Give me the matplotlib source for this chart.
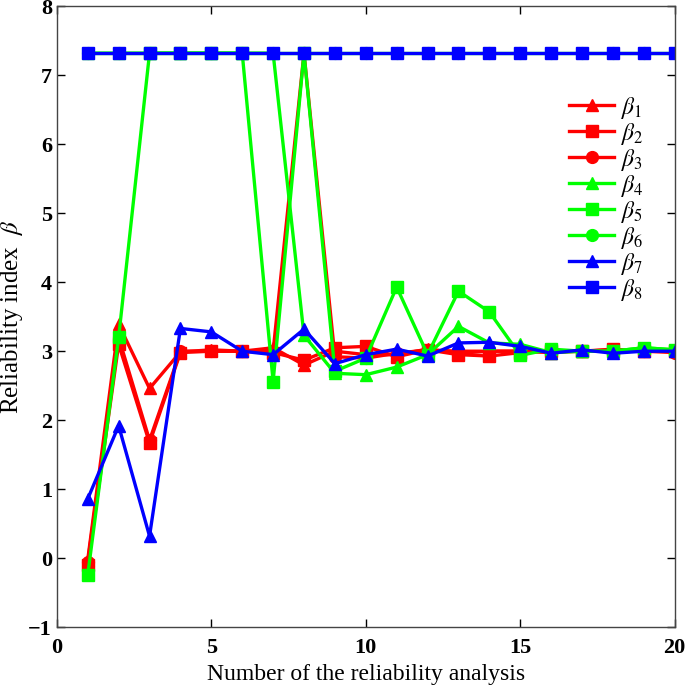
"""
Reliability index convergence plot (beta_1 ... beta_8)
"""

import matplotlib
matplotlib.use("Agg")
import matplotlib.pyplot as plt
import numpy as np

plt.rcParams["font.family"] = ["Liberation Serif", "DejaVu Serif"]
plt.rcParams["mathtext.fontset"] = "stix"

# ===== data =====
iterations = list(range(1, 21))

beta1 = [-0.02, 3.39, 2.46, 2.99, 3.02, 3.0, 3.05, 2.8, 3.0, 2.95,
         2.95, 3.03, 2.97, 3.0, 3.0, 2.98, 3.0, 3.02, 3.0, 3.0]
beta2 = [-0.1, 3.1, 1.67, 2.98, 3.0, 3.0, 2.98, 2.87, 3.05, 3.07,
         2.92, 3.02, 2.95, 2.93, 2.98, 3.0, 3.0, 3.03, 3.0, 3.0]
beta3 = [-0.05, 3.2, 1.71, 3.0, 3.0, 3.0, 3.0, 7.32, 2.92, 2.9,
         2.97, 3.02, 3.0, 3.0, 3.0, 3.0, 3.0, 3.0, 3.0, 2.98]
beta4 = [7.32, 7.32, 7.32, 7.32, 7.32, 7.32, 7.32, 3.23, 2.68, 2.66,
         2.77, 2.95, 3.36, 3.12, 3.1, 2.98, 3.0, 3.0, 3.05, 3.02]
beta5 = [-0.24, 3.2, 7.32, 7.32, 7.32, 7.32, 2.56, 7.32, 2.71, 2.9,
         3.93, 2.95, 3.87, 3.57, 2.94, 3.03, 3.0, 3.0, 3.05, 3.02]
beta6 = [7.32] * 20
beta7 = [0.86, 1.92, 0.32, 3.33, 3.28, 3.0, 2.95, 3.32, 2.82, 2.95,
         3.03, 2.93, 3.12, 3.13, 3.07, 2.97, 3.02, 2.97, 3.0, 3.0]
beta8 = [7.32] * 20

series = [beta1, beta2, beta3, beta4, beta5, beta6, beta7, beta8]
labels = [r"$\beta_{%d}$" % (i + 1) for i in range(8)]

# ===== style =====
colors = ["#FF0000"] * 3 + ["#00FF00"] * 3 + ["#0000FF"] * 2
markers = ["^", "s", "o", "^", "s", "o", "^", "s"]

fig = plt.figure(figsize=(6.85, 6.9), dpi=100)
ax = fig.add_axes([0.083, 0.091, 0.902, 0.9])

for vals, lab, c, m in zip(series, labels, colors, markers):
    ax.plot(iterations, vals, color=c, marker=m, markersize=8.5,
            linewidth=2.4, label=lab)

ax.set_xlim(0, 20)
ax.set_ylim(-1, 8)
ax.set_xticks([0, 5, 10, 15, 20])
ax.set_yticks(np.arange(-1, 9, 1))
ax.tick_params(direction="in", top=True, right=True, length=6,
               labelsize=16, width=1)
ax.tick_params(axis="x", pad=8)
for t in ax.get_xticklabels() + ax.get_yticklabels():
    t.set_fontweight("bold")
for s in ax.spines.values():
    s.set_color("#444444")
    s.set_linewidth(1)

ax.set_xlabel("Number of the reliability analysis", fontsize=17, labelpad=4)
ax.set_ylabel(r"Reliability index  $\beta$", fontsize=18)
ax.yaxis.set_label_coords(-0.052, 0.5)

ax.legend(loc="upper right", bbox_to_anchor=(0.985, 0.892), frameon=False,
          fontsize=17, handlelength=1.9, labelspacing=0.0, handletextpad=0.3)

fig.savefig("out.png", dpi=100)
